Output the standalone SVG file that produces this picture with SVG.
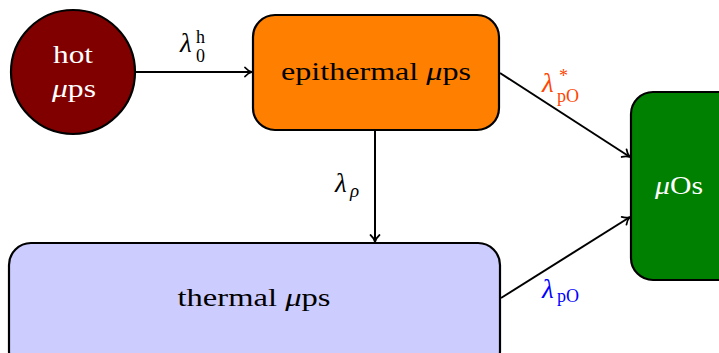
<svg xmlns="http://www.w3.org/2000/svg" width="719" height="353" viewBox="0 0 719 353">
<style>
.node{stroke:#000;stroke-width:2.2}
.t{font-family:"Liberation Serif","Times New Roman",serif;font-size:25px}
.w{fill:#fff}
.k{fill:#000}
.i{font-style:italic}
.e{stroke:#000;stroke-width:2;fill:none}
</style>
<defs>
<marker id="arr" markerWidth="12" markerHeight="12" refX="9" refY="6" orient="auto" markerUnits="userSpaceOnUse">
<path d="M2,1.5 Q5,5 9,6 Q5,7 2,10.5" fill="none" stroke="#000" stroke-width="1.8" stroke-linecap="round"/>
</marker>
</defs>
<g id="connectors">
<line class="e" x1="135" y1="72" x2="252" y2="72" marker-end="url(#arr)"/>
<line class="e" x1="375" y1="130" x2="375" y2="242" marker-end="url(#arr)"/>
<line class="e" x1="500" y1="73" x2="630" y2="157" marker-end="url(#arr)"/>
<line class="e" x1="501" y1="298" x2="630" y2="217" marker-end="url(#arr)"/>
<g class="t">
<text x="180" y="52" class="i" font-size="27">λ</text>
<text x="196" y="43" font-size="18">h</text>
<text x="196" y="62" font-size="18">0</text>
<text x="335" y="192" class="i" font-size="27">λ</text>
<text x="350" y="197" class="i" font-size="19">ρ</text>
<g fill="#FF4500">
<text x="542" y="92" class="i" font-size="27">λ</text>
<text x="559" y="82" font-size="18">*</text>
<text x="557" y="102" font-size="18">pO</text>
</g>
<g fill="#0000FF">
<text x="542" y="298" class="i" font-size="27">λ</text>
<text x="557" y="302" font-size="18">pO</text>
</g>
</g>
</g>
<g id="hot">
<circle class="node" cx="73" cy="72" r="62" fill="#800000"/>
<text class="t w" x="73" y="63" text-anchor="middle" textLength="40" lengthAdjust="spacingAndGlyphs">hot</text>
<text class="t w" x="74" y="97" text-anchor="middle" textLength="44" lengthAdjust="spacingAndGlyphs"><tspan class="i">μ</tspan>ps</text>
</g>
<g id="epithermal">
<rect class="node" x="253" y="15" width="246" height="115" rx="22" fill="#FF8000"/>
<text class="t k" x="376" y="80" text-anchor="middle" textLength="190" lengthAdjust="spacingAndGlyphs">epithermal <tspan class="i">μ</tspan>ps</text>
</g>
<g id="thermal">
<rect class="node" x="9" y="243" width="491" height="130" rx="22" fill="#CCCCFF"/>
<text class="t k" x="254" y="306" text-anchor="middle" textLength="153" lengthAdjust="spacingAndGlyphs">thermal <tspan class="i">μ</tspan>ps</text>
</g>
<g id="muOs">
<rect class="node" x="631" y="92" width="110" height="188" rx="22" fill="#008000"/>
<text class="t w" x="679" y="194" text-anchor="middle" textLength="48" lengthAdjust="spacingAndGlyphs"><tspan class="i">μ</tspan>Os</text>
</g>
</svg>
